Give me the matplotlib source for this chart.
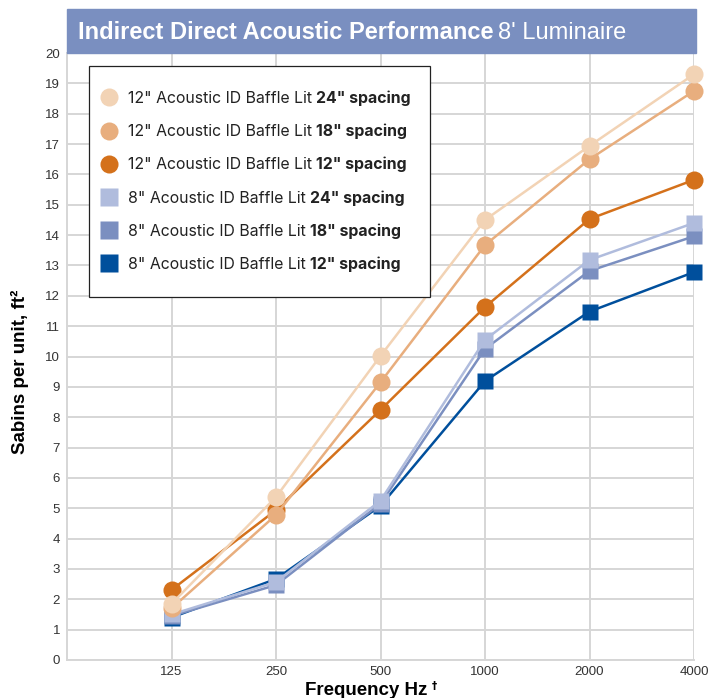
import matplotlib
matplotlib.use("Agg")
import matplotlib.pyplot as plt
from matplotlib.patches import Rectangle
from matplotlib.lines import Line2D

# data
freqs = ["125", "250", "500", "1000", "2000", "4000"]
b12_24 = [1.85, 5.37, 10.02, 14.5, 16.94, 19.3]
b12_18 = [1.7, 4.78, 9.15, 13.67, 16.5, 18.75]
b12_12 = [2.31, 4.94, 8.24, 11.63, 14.53, 15.82]
b8_24 = [1.5, 2.57, 5.25, 10.55, 13.18, 14.4]
b8_18 = [1.45, 2.47, 5.15, 10.25, 12.82, 13.96]
b8_12 = [1.4, 2.67, 5.08, 9.19, 11.48, 12.78]

c12_24 = "#F2D3B5"
c12_18 = "#E8AE7E"
c12_12 = "#D4711B"
c8_24 = "#B0BCDD"
c8_18 = "#7B8FC0"
c8_12 = "#004F9C"

series = [  # drawn back to front
    (b8_12, c8_12, "s"),
    (b8_18, c8_18, "s"),
    (b8_24, c8_24, "s"),
    (b12_12, c12_12, "o"),
    (b12_18, c12_18, "o"),
    (b12_24, c12_24, "o"),
]
legend_items = [
    (c12_24, "o", '12" Acoustic ID Baffle Lit', '24" spacing'),
    (c12_18, "o", '12" Acoustic ID Baffle Lit', '18" spacing'),
    (c12_12, "o", '12" Acoustic ID Baffle Lit', '12" spacing'),
    (c8_24, "s", '8" Acoustic ID Baffle Lit', '24" spacing'),
    (c8_18, "s", '8" Acoustic ID Baffle Lit', '18" spacing'),
    (c8_12, "s", '8" Acoustic ID Baffle Lit', '12" spacing'),
]

W, H = 712, 698
fig = plt.figure(figsize=(W / 100, H / 100), dpi=100)
ax = fig.add_axes([67 / W, 1 - 660 / H, (694 - 67) / W, (660 - 53) / H])

x = list(range(1, len(freqs) + 1))
for vals, col, mk in series:
    ms = 13 if mk == "o" else 11.5
    ax.plot(x, vals, color=col, lw=1.8, marker=mk, ms=ms, mec="none",
            clip_on=False, zorder=3)

ax.set_xlim(0, 6)
ax.set_ylim(0, 20)
ax.set_xticks(x)
ax.set_xticklabels(freqs)
ax.set_yticks(range(0, 21))
ax.tick_params(length=0, labelsize=9.5, colors="#333333")
ax.tick_params(axis="y", pad=5)
ax.tick_params(axis="x", pad=4)
for lab in ax.get_xticklabels() + ax.get_yticklabels():
    lab.set_family("Liberation Sans")
ax.grid(True, color="#D6D6D6", lw=1.4)
ax.set_axisbelow(True)
for s in ["top", "right"]:
    ax.spines[s].set_visible(False)
for s in ["left", "bottom"]:
    ax.spines[s].set_color("#D6D6D6")
    ax.spines[s].set_linewidth(1.4)

ax.set_xlabel("Frequency Hz", family="Liberation Sans", weight="bold", fontsize=13.5)
ax.xaxis.set_label_coords((366 - 67) / 627, -(695 - 660) / 607)
ax.xaxis.label.set_va("baseline")
ax.set_ylabel("Sabins per unit, ft\u00b2", family="Liberation Sans", weight="bold", fontsize=13.5)
ax.yaxis.set_label_coords((29 - 67) / 627, (660 - 372) / 607)

# title bar
fig.patches.append(Rectangle((67 / W, 1 - 53 / H), (696 - 67) / W, 44 / H,
                             transform=fig.transFigure, color="#7A8FC0", zorder=0))
t1 = fig.text(78 / W, 1 - 39 / H, "Indirect Direct Acoustic Performance", color="white",
              family="Liberation Sans", weight="bold", fontsize=17, va="baseline")

# legend (frame drawn by hand so it fits the bold part too)
handles = [Line2D([], [], color=c, marker=m, ls="none", ms=13 if m == "o" else 13.5, mec="none")
           for c, m, _, _ in legend_items]
leg = ax.legend(handles, [a for _, _, a, _ in legend_items], loc="upper left",
                bbox_to_anchor=(22 / 627, (660 - 72) / 607), frameon=False,
                prop={"family": "Inter", "size": 11.4},
                labelspacing=1.15, handletextpad=1.16, borderpad=1.2, handlelength=0.1,
                borderaxespad=0)
leg.set_zorder(6)
for t in leg.get_texts():
    t.set_color("#222222")

fig.canvas.draw()
r = fig.canvas.get_renderer()
bb = t1.get_window_extent(r)
fig.text((bb.x1 + 5) / W, 1 - 39 / H, "8' Luminaire", color="white",
         family="Liberation Sans", fontsize=17, va="baseline")
bb = ax.xaxis.label.get_window_extent(r)
fig.text((bb.x1 + 5) / W, 1 - 686 / H, "\u2020", family="DejaVu Sans", fontsize=7.5,
         weight="bold", va="center")

right = 0
for txt, (_, _, _, bold) in zip(leg.get_texts(), legend_items):
    bb = txt.get_window_extent(r)
    bt = fig.text((bb.x1 + 4.5) / W, bb.y0 / H, bold, family="Inter", weight="bold",
                  fontsize=11.4, va="bottom", color="#222222", zorder=7)
    right = max(right, bt.get_window_extent(r).x1)
lb = leg.get_window_extent(r)
ax.add_patch(Rectangle((lb.x0, lb.y0 - 6), right + 19 - lb.x0, lb.height + 12, transform=None,
                       facecolor="white", edgecolor="#222222", lw=0.9, zorder=5))

fig.savefig("out.png", dpi=100)
